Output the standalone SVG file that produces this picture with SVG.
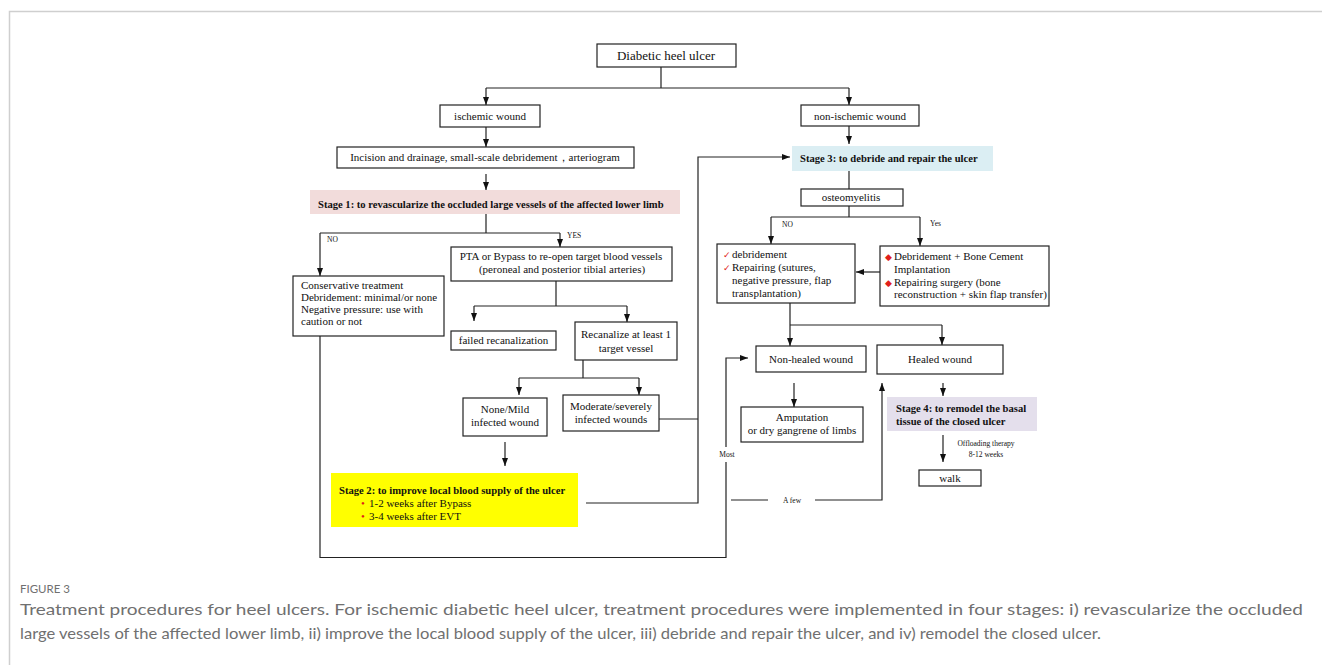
<svg xmlns="http://www.w3.org/2000/svg" width="1322" height="665" viewBox="0 0 1322 665">
<style>
.frame{fill:none;stroke:#cfcfcf;stroke-width:1.5}
.box{fill:#fff;stroke:#222;stroke-width:1.2}
.t{font-family:"Liberation Serif","Times New Roman",serif;font-size:11px;fill:#111}
.c{text-anchor:middle}
.b{font-weight:bold;font-size:10.6px}
.s{font-family:"Liberation Serif","Times New Roman",serif;font-size:7.5px;fill:#111}
.red{fill:#e0201b}
.ln{fill:none;stroke:#222;stroke-width:1.2}
.ar{marker-end:url(#ah)}
.cap{font-family:Lato,"Open Sans","Liberation Sans",sans-serif;fill:#707070}
</style>
<defs>
<marker id="ah" markerUnits="userSpaceOnUse" markerWidth="8" markerHeight="8" viewBox="0 0 8 8" refX="8" refY="4" orient="auto">
<path d="M0,1 L8,4 L0,7 Z" fill="#111"/>
</marker>
</defs>
<rect width="1322" height="665" fill="#fff"/>
<path class="frame" d="M9.5,665 V11.5 H1322"/>

<g id="connectors">
<path class="ln" d="M661,67 V88 M486,88 H849"/>
<path class="ln ar" d="M486,88 V105"/>
<path class="ln ar" d="M849,88 V105"/>
<path class="ln ar" d="M486,127 V147"/>
<path class="ln ar" d="M486,174 V190"/>
<path class="ln" d="M486,214 V233 M320,233 H560"/>
<path class="ln ar" d="M320,233 V276"/>
<path class="ln ar" d="M560,233 V247"/>
<path class="ln" d="M320,336 V557.5 H726 V462"/>
<path class="ln ar" d="M726,447 V358 H748"/>
<path class="ln" d="M731,500 H768"/>
<path class="ln ar" d="M815,500 H882 V383"/>
<path class="ln" d="M556,281 V306 M474,306 H627"/>
<path class="ln ar" d="M474,306 V321"/>
<path class="ln ar" d="M627,306 V322"/>
<path class="ln" d="M583,360 V378 M519,378 H639"/>
<path class="ln ar" d="M519,378 V395"/>
<path class="ln ar" d="M639,378 V395"/>
<path class="ln ar" d="M505,442 V466"/>
<path class="ln ar" d="M586,503 H698 V157 H790"/>
<path class="ln" d="M659,419 H698"/>
<path class="ln ar" d="M849,126 V144"/>
<path class="ln" d="M849,171 V189"/>
<path class="ln" d="M849,206 V217 M771,217 H920"/>
<path class="ln ar" d="M771,217 V244"/>
<path class="ln ar" d="M920,217 V246"/>
<path class="ln ar" d="M880,272 H856"/>
<path class="ln" d="M790,303 V325 M790,325 H942"/>
<path class="ln ar" d="M790,325 V346"/>
<path class="ln ar" d="M942,325 V345"/>
<path class="ln ar" d="M794,383 V407"/>
<path class="ln ar" d="M943,383 V396"/>
<path class="ln ar" d="M943,435 V462"/>
<text class="s" x="327" y="242">NO</text>
<text class="s" x="567" y="238">YES</text>
<text class="s" x="782" y="227">NO</text>
<text class="s" x="930" y="226">Yes</text>
<text class="s c" x="727" y="457">Most</text>
<text class="s c" x="792" y="503">A few</text>
<text class="s c" x="986" y="446">Offloading therapy</text>
<text class="s c" x="986" y="457">8-12 weeks</text>
</g>

<g id="n-title"><rect class="box" x="597" y="44" width="139" height="23"/><text class="t c" x="666" y="60" style="font-size:13px">Diabetic heel ulcer</text></g>
<g id="n-ischemic"><rect class="box" x="440" y="105" width="100" height="22"/><text class="t c" x="490" y="120">ischemic wound</text></g>
<g id="n-nonischemic"><rect class="box" x="801" y="105" width="118" height="21"/><text class="t c" x="860" y="119.5">non-ischemic wound</text></g>
<g id="n-incision"><rect class="box" x="337" y="147" width="297" height="21"/><text class="t c" x="485" y="161">Incision and drainage, small-scale debridement，arteriogram</text></g>
<g id="n-stage1"><rect x="310" y="190" width="370" height="24" fill="#f2dcdb"/><text class="t b" x="318" y="208">Stage 1: to revascularize the occluded large vessels of the affected lower limb</text></g>
<g id="n-conservative"><rect class="box" x="293" y="276" width="151" height="60"/>
<text class="t" x="301" y="289">Conservative treatment</text>
<text class="t" x="301" y="301">Debridement: minimal/or none</text>
<text class="t" x="301" y="313">Negative pressure: use with</text>
<text class="t" x="301" y="325">caution or not</text></g>
<g id="n-pta"><rect class="box" x="451" y="247" width="221" height="34"/>
<text class="t c" x="561" y="260">PTA or Bypass to re-open target blood vessels</text>
<text class="t c" x="562" y="273">(peroneal and posterior tibial arteries)</text></g>
<g id="n-failed"><rect class="box" x="451" y="331" width="105" height="19"/><text class="t c" x="503.5" y="344">failed recanalization</text></g>
<g id="n-recan"><rect class="box" x="575" y="322" width="102" height="38"/>
<text class="t c" x="626" y="338">Recanalize at least 1</text>
<text class="t c" x="626" y="352">target vessel</text></g>
<g id="n-mild"><rect class="box" x="463" y="398" width="84" height="38"/>
<text class="t c" x="505" y="413">None/Mild</text>
<text class="t c" x="505" y="426">infected wound</text></g>
<g id="n-moderate"><rect class="box" x="563" y="395" width="96" height="36"/>
<text class="t c" x="611" y="410">Moderate/severely</text>
<text class="t c" x="611" y="423">infected wounds</text></g>
<g id="n-stage2"><rect x="331" y="473" width="247" height="54" fill="#ffff00"/>
<text class="t b" x="339" y="494">Stage 2: to improve local blood supply of the ulcer</text>
<text class="t red" x="361" y="507">•</text><text class="t" x="369" y="507">1-2 weeks after Bypass</text>
<text class="t red" x="361" y="520">•</text><text class="t" x="369" y="520">3-4 weeks after EVT</text></g>
<g id="n-stage3"><rect x="792" y="146" width="201" height="25" fill="#dbeef3"/><text class="t b" x="800" y="162">Stage 3: to debride and repair the ulcer</text></g>
<g id="n-osteo"><rect class="box" x="801" y="189" width="102" height="17"/><text class="t c" x="851" y="201">osteomyelitis</text></g>
<g id="n-debridement"><rect class="box" x="717" y="244" width="138" height="59"/>
<text class="t red" x="723" y="258" style="font-size:9px">✓</text><text class="t" x="732" y="258">debridement</text>
<text class="t red" x="723" y="271" style="font-size:9px">✓</text><text class="t" x="732" y="271">Repairing (sutures,</text>
<text class="t" x="732" y="284">negative pressure, flap</text>
<text class="t" x="732" y="297">transplantation)</text></g>
<g id="n-cement"><rect class="box" x="880" y="246" width="169" height="60"/>
<text class="t red" x="885" y="260" style="font-size:9px">◆</text><text class="t" x="894" y="260">Debridement + Bone Cement</text>
<text class="t" x="894" y="273">Implantation</text>
<text class="t red" x="885" y="286" style="font-size:9px">◆</text><text class="t" x="894" y="286">Repairing surgery (bone</text>
<text class="t" x="894" y="298">reconstruction + skin flap transfer)</text></g>
<g id="n-nonhealed"><rect class="box" x="756" y="346" width="110" height="26"/><text class="t c" x="811" y="363">Non-healed wound</text></g>
<g id="n-healed"><rect class="box" x="877" y="345" width="126" height="29"/><text class="t c" x="940" y="363">Healed wound</text></g>
<g id="n-amputation"><rect class="box" x="741" y="407" width="122" height="35"/>
<text class="t c" x="802" y="421">Amputation</text>
<text class="t c" x="802" y="434">or dry gangrene of limbs</text></g>
<g id="n-stage4"><rect x="887" y="397" width="150" height="34" fill="#e4dfec"/>
<text class="t b" x="896" y="412">Stage 4: to remodel the basal</text>
<text class="t b" x="896" y="425">tissue of the closed ulcer</text></g>
<g id="n-walk"><rect class="box" x="919" y="470" width="62" height="16"/><text class="t c" x="950" y="482">walk</text></g>

<g id="caption">
<text class="cap" x="20" y="593" style="font-size:11.5px">FIGURE 3</text>
<text class="cap" x="20" y="615" style="font-size:16px" textLength="1283" lengthAdjust="spacingAndGlyphs">Treatment procedures for heel ulcers. For ischemic diabetic heel ulcer, treatment procedures were implemented in four stages: i) revascularize the occluded</text>
<text class="cap" x="20" y="639" style="font-size:16px" textLength="1081" lengthAdjust="spacingAndGlyphs">large vessels of the affected lower limb, ii) improve the local blood supply of the ulcer, iii) debride and repair the ulcer, and iv) remodel the closed ulcer.</text>
</g>
</svg>
